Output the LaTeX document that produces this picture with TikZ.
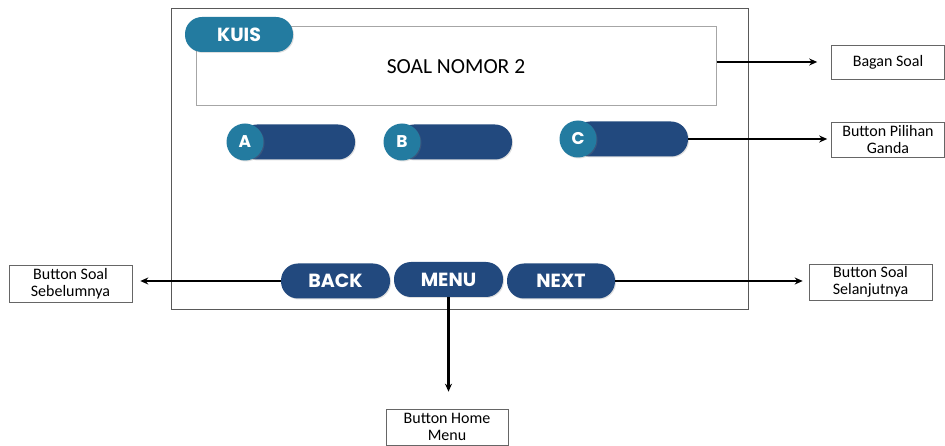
\documentclass[tikz,border=0pt]{standalone}
\usepackage{fontspec}
\setmainfont{Carlito}
\newfontfamily\pillfont{Poppins}
\usetikzlibrary{arrows.meta,shadows}

\definecolor{kuisteal}{RGB}{35,123,160}
\definecolor{pillblue}{RGB}{34,73,126}
\newcommand*\pillheight{35}
\tikzset{
  pill/.style={
    fill=pillblue,
    rounded corners=17pt,
    minimum height=\pillheight,
    minimum width=#1,
    inner sep=0pt,
    text=white,
    font=\pillfont\bfseries\fontsize{19}{19}\selectfont,
    drop shadow={opacity=0.25,shadow xshift=1pt,shadow yshift=-1pt}
  },
  optcircle/.style={
    circle,
    fill=kuisteal,
    minimum size=37,
    inner sep=0pt,
    text=white,
    font=\pillfont\bfseries\fontsize{17}{17}\selectfont,
    drop shadow={opacity=0.25,shadow xshift=1pt,shadow yshift=-1pt}
  },
  lbl/.style 2 args={
    draw=gray!80!black,
    line width=0.6pt,
    fill=white,
    inner xsep=1pt,
    inner ysep=0pt,
    minimum width=#1,
    minimum height=#2,
    align=center,
    font=\fontsize{16}{17.5}\selectfont
  },
  arrow/.style={
    draw=black,
    line width=2.2pt,
    -{Stealth[length=8pt,width=7pt]}
  }
}

\begin{document}
\begin{tikzpicture}[x=1pt,y=-1pt]
    \useasboundingbox (0,0) rectangle (945,446);

    % The screen frame and the question box.
    \draw[gray!70!black,line width=0.8pt] (171,8) rectangle (748,309);
    \node[draw=gray!70,line width=1pt,minimum width=520,minimum height=79,
          font=\fontsize{21.5}{24}\selectfont] (soal) at (456,66.5) {SOAL NOMOR 2};
    \node[pill=108,fill=kuisteal] (kuis) at (239,34.5) {KUIS};

    % Answer buttons: a bar with a lettered circle on its left end.
    \foreach \letter/\cx/\cy in {A/245/142,B/402/142,C/578/139} {
        \node[pill=115] (bar\letter) at (\cx+52.5,\cy) {};
        \node[optcircle] (opt\letter) at (\cx,\cy) {\letter};
    }

    % Navigation buttons.
    \node[pill=109] (back) at (335.5,281) {BACK};
    \node[pill=109] (menu) at (448.5,279.5) {MENU};
    \node[pill=108] (next) at (561,281) {NEXT};

    % The labels round the screen.
    \node[lbl={113}{34}] (lblsoal) at (888,62) {Bagan Soal};
    \node[lbl={113}{35}] (lblpilihan) at (888,139.5) {Button Pilihan\\Ganda};
    \node[lbl={123}{37}] (lblsebelum) at (70.5,283.5) {Button Soal\\Sebelumnya};
    \node[lbl={123}{36}] (lblselanjut) at (870.5,282) {Button Soal\\Selanjutnya};
    \node[lbl={122}{36}] (lblhome) at (447,427) {Button Home\\Menu};

    % Arrows from the parts to their labels.
    \draw[arrow,shorten >=14pt] (soal.east |- lblsoal.west) -- (lblsoal.west);
    \draw[arrow,shorten >=4pt] (barC.east) -- (barC.east -| lblpilihan.west);
    \draw[arrow,shorten >=8pt] (back.west) -- (back.west -| lblsebelum.east);
    \draw[arrow,shorten >=6pt] (next.east) -- (next.east -| lblselanjut.west);
    \draw[arrow,shorten >=17pt] (menu.south) -- (menu.south |- lblhome.north);

\end{tikzpicture}
\end{document}
